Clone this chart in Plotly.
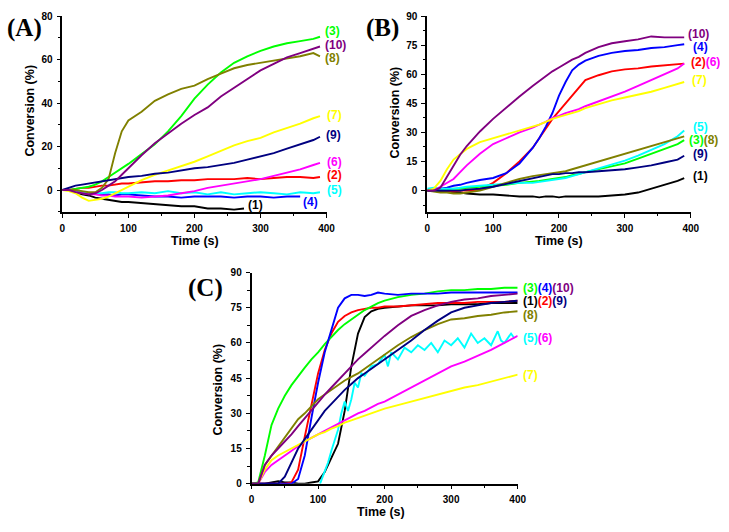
import plotly.graph_objects as go

W, H = 729, 532

COL = {1: '#000000', 2: '#FF0000', 3: '#00FF00', 4: '#0000FF', 5: '#00FFFF',
       6: '#FF00FF', 7: '#FFFF00', 8: '#808000', 9: '#000080', 10: '#800080'}

# ---------------- Panel A ----------------
TA = [0, 10, 20, 30, 40, 50, 60, 70, 80, 90, 100, 120, 140, 160, 180, 200, 220, 240,
      260, 280, 300, 320, 340, 360, 380, 390]
A1_t = [0, 10, 20, 30, 40, 50, 60, 70, 80, 90, 100, 120, 140, 160, 180, 200, 220, 240, 260, 275]
A1 = [0, 0, -1, -2, -2.5, -3.5, -4, -4.5, -5, -5.5, -5.5, -6, -6.5, -7, -7.5, -7.5, -8.5, -8.5, -9, -8.5]
A2 = [0, 0, 0.5, 1, 1, 1.5, 2, 2, 2.5, 3, 3, 3.5, 4, 4, 4.5, 4.5, 5, 5, 5, 5.5, 5, 5.5, 6, 6, 5.5, 6]
A3 = [0, 0, 0.5, 1, 1.5, 2.5, 4, 6, 8, 10, 12, 16.5, 21, 27, 34, 42, 48.5, 54, 58.5, 61.5, 64, 66, 67.5, 68.5, 69.5, 70.5]
A4 = [0, 0, -0.5, -1, -1.5, -1.5, -2, -2, -2.5, -2, -2, -2.5, -3, -3, -3.5, -3, -3, -3, -3.5, -3, -3, -3.5, -3, -3, None, None]
A5 = [0, 0, -1, -1, -1.5, -1.5, -1.5, -1, -1, -1.5, -1.5, -1, -1.5, -0.5, -1.5, -1, -2, -1, -2, -1.5, -1, -1.5, -2, -1, -1.5, -1]
A6 = [0, 0, -1, -1.5, -2, -2, -2.5, -2.5, -3, -3, -3, -3.5, -3, -2.5, -1.5, -0.5, 1, 2, 3, 4, 5, 6.5, 8, 9.5, 11.5, 12.5]
A7 = [0, -0.5, -1.5, -3.5, -5, -4.5, -4, -3, -1.5, 0, 1.5, 4.5, 7, 9, 11, 13, 15.5, 18, 20.5, 22.5, 24, 26.5, 28.5, 30.5, 33, 34]
A8 = [0, 0, 0, -0.5, -1, -1, 1, 5, 17, 27, 32, 36, 41, 44, 46.5, 48, 51, 53.5, 56, 57.5, 58.5, 59.5, 60.5, 61.5, 63, 61.5]
A9 = [0, 1, 2, 2.5, 3, 3.5, 4, 4.5, 5, 5.5, 6, 6.5, 7.5, 8, 9, 10, 10.5, 11.5, 12.5, 14, 15.5, 17, 19, 21, 23, 24.5]
A10 = [0, 0, -1, -1.5, -2, -1.5, 0, 2, 4, 7, 10, 16, 21.5, 26, 30.5, 34.5, 38, 43, 47, 51, 55, 58, 61, 63, 65, 66]

# ---------------- Panel B ----------------
TB = [0, 10, 20, 30, 40, 50, 60, 80, 100, 120, 140, 160, 170, 180, 190, 200, 210, 220, 230, 240,
      260, 280, 300, 320, 340, 360, 380, 390]
B1 = [0, 0, -0.5, -0.5, -1, -1, -1.5, -2, -2, -2.5, -3, -3, -3.5, -3, -3, -3.5, -3, -3, -3, -3,
      -3, -2.5, -2, -1, 1, 3, 5, 6.5]
B2 = [0, 0, 0, 0, -0.5, 0, 0, 0.5, 4, 9, 15, 22, 27, 32, 37, 41, 45, 49, 53, 57,
      59.5, 61.5, 62.5, 63, 64, 64.5, 65, 65.5]
B3 = [0, 0, 0.5, 0.5, 1, 1, 1.5, 2, 2.5, 3, 4, 4.5, 5, 5.5, 6, 6.5, 7, 8, 8.5, 9.5,
      11, 12.5, 14, 16.5, 19, 21.5, 24, 26]
B4 = [0, 0.5, 1, 1.5, 2.5, 3, 4, 5.5, 6.5, 9, 14, 22, 27, 33, 40, 49, 56, 62, 65, 67,
      69.5, 71, 72, 72.5, 73.5, 74, 75, 75.5]
B5 = [1, 1.5, 1, 1, 1, 1.5, 2, 2.5, 3, 3.5, 4, 4, 4.5, 5, 5.5, 6, 6.5, 7.5, 8.5, 9.5,
      11.5, 13.5, 15.5, 18, 21, 24, 28, 31]
B6 = [0, 0, 2, 4, 6, 9.5, 13, 19, 24, 27, 30, 32.5, 34, 35.5, 37.5, 38.5, 40, 41, 42, 43.5,
      46, 48.5, 51, 54, 57, 60, 63, 65.5]
B7 = [0, 1, 5, 11, 16, 19, 21.5, 25, 27, 29, 31, 33, 34, 35.5, 37, 38, 39, 40, 41, 42.5,
      44.5, 46.5, 48, 49.5, 51, 53, 55, 56]
B8 = [0, -0.5, -1, -1, -1.5, -1.5, -1, 0, 2, 4, 6, 7.5, 8, 8.5, 9, 9.5, 10, 11, 12, 13,
      15, 17, 19, 21, 23, 25, 27, 28]
B9 = [0, 0, 0, 0, 0, 0, 0.5, 1, 2, 3.5, 5, 6.5, 7, 8, 8.5, 8.5, 9, 9, 9.5, 9.5,
      10, 10.5, 11, 12, 13, 14.5, 16, 18]
B10 = [0, 0, 1.5, 7, 13, 18.5, 23, 30.5, 37, 43, 48.5, 54, 56.5, 59, 61.5, 63.5, 65.5, 67.5, 69, 71,
       74, 76, 77, 78, 79.5, 79, 79, 79]

# ---------------- Panel C ----------------
TC = [0, 10, 20, 30, 40, 50, 60, 70, 80, 90, 100, 110, 120, 130, 140, 150, 160, 170, 180, 190, 200,
      220, 240, 260, 280, 300, 320, 340, 360, 380, 400]
C1 = [0, 0, 0, 0.5, 1, 0.5, 0.5, 0, 0, 0.5, 1, 5, 11, 17, 31, 50, 64, 71, 73.5, 74.5, 75,
      75.5, 76, 76, 76, 76.5, 76.5, 76.5, 77, 77, 77]
C2 = [0, 0, 0, 0, 0, 0, 0.5, 6, 20, 34, 47, 57, 64, 69, 71.5, 73, 74, 74.5, 75, 75, 75.5,
      75.5, 76, 76.5, 77, 77, 77, 77.5, 77.5, 77.5, 78]
C3 = [0, 0.5, 12, 25, 32, 37.5, 42, 46, 49.5, 53, 56, 59.5, 62.5, 65.5, 68, 70, 72, 74, 75.5, 77, 78,
      79.5, 80.5, 81, 82, 82.5, 82.5, 83, 83, 83.5, 83.5]
C4 = [0, 0, 0, 0, 0, 0, 0, 2, 12, 28, 43, 56, 66, 75, 79, 80.5, 80.5, 80, 80.5, 81.5, 81,
      80.5, 81, 81, 81, 81.5, 81.5, 81.5, 81.5, 81.5, 81.5]
C5_t = [103, 110, 115, 120, 125, 130, 135, 140, 145, 150, 155, 160, 165, 170, 180, 190, 200, 205, 210, 220,
        230, 240, 250, 260, 270, 280, 290, 300, 310, 320, 330, 340, 350, 360, 370, 375, 380, 390, 395]
C5 = [0, 5, 9, 14, 19, 23, 30, 35, 31, 36, 43, 41, 47, 46, 50, 51, 55, 50, 56, 53,
      58, 56, 59, 57, 60, 56, 61, 59, 62, 58, 64, 60, 62, 59, 65, 61, 60, 64, 62]
C6 = [0, 0, 5, 8, 10, 12, 14, 16, 18, 19.5, 21, 22.5, 24, 25.5, 27, 28.5, 30, 31, 32.5, 34, 35,
      38, 41, 44, 47, 50, 52, 54.5, 57, 60, 63]
C7 = [0, 0, 6, 10, 12, 13.5, 15, 16.5, 18, 19.5, 21, 22, 23.5, 24.5, 26, 27, 28, 29, 30, 31, 32,
      33.5, 35, 36.5, 38, 39.5, 41, 42, 43.5, 45, 46.5]
C8 = [0, 0, 8, 12, 16, 20, 24, 27.5, 30, 33, 36, 38, 40, 42, 44, 45.5, 47, 49, 51, 53, 55,
      59, 62.5, 65.5, 68, 70, 70.5, 71.5, 72, 73, 73.5]
C9 = [0, 0, 0, 0, 0, 3, 9, 15, 19, 23, 27.5, 31, 34, 37, 40, 42.5, 45, 47, 49, 51, 53,
      57, 61, 65.5, 69.5, 73, 75, 76, 77, 77.5, 78]
C10 = [0, 0, 8, 12, 15, 18, 21, 24.5, 28, 31.5, 35, 38, 41, 44, 47, 50, 53, 55.5, 58, 60.5, 63,
       67.5, 71.5, 74, 76, 77.5, 78.5, 79, 80, 80.5, 81]

# curve labels: (series numbers, x in s, y in %)
A_labels = [([3], 394, 73), ([10], 394, 66.7), ([8], 394, 60.8), ([7], 398, 34.4),
            ([9], 396, 25.4), ([6], 398, 13), ([2], 398, 7), ([5], 398, 0),
            ([4], 361, -5.3), ([1], 278, -6.7)]
B_labels = [([10], 392, 80.5), ([4], 400, 74.2), ([2, 6], 397.5, 66.4), ([7], 398.5, 56.9),
            ([5], 400, 32.7), ([3, 8], 393.5, 26.3), ([9], 400, 19), ([1], 401, 7.4)]
C_labels = [([3, 4, 10], 405, 83.5), ([1, 2, 9], 405, 77.9), ([8], 405, 72),
            ([5, 6], 405, 62), ([7], 405, 46.4)]

fig = go.Figure()


def add(t, y, k, xa, ya):
    fig.add_trace(go.Scatter(x=t, y=y, mode='lines', xaxis=xa, yaxis=ya,
                             line=dict(color=COL[k], width=1.9), connectgaps=False,
                             showlegend=False, hoverinfo='skip'))


A_series = [(A1_t, A1, 1), (TA, A2, 2), (TA, A3, 3), (TA, A4, 4), (TA, A5, 5), (TA, A6, 6),
            (TA, A7, 7), (TA, A8, 8), (TA, A9, 9), (TA, A10, 10)]
B_series = [(TB, B1, 1), (TB, B2, 2), (TB, B3, 3), (TB, B4, 4), (TB, B5, 5), (TB, B6, 6),
            (TB, B7, 7), (TB, B8, 8), (TB, B9, 9), (TB, B10, 10)]
C_series = [(TC, C1, 1), (TC, C2, 2), (TC, C3, 3), (TC, C4, 4), (C5_t, C5, 5), (TC, C6, 6),
            (TC, C7, 7), (TC, C8, 8), (TC, C9, 9), (TC, C10, 10)]
for t, y, k in A_series:
    add(t, y, k, 'x', 'y')
for t, y, k in B_series:
    add(t, y, k, 'x2', 'y2')
for t, y, k in C_series:
    add(t, y, k, 'x3', 'y3')

FONT = 'Arial, Liberation Sans, sans-serif'
tickfont = dict(family=FONT, size=10, color='black', weight='bold')


def px(x):
    return x / W


def py(y):
    return 1 - y / H


PANELS = {
    'A': dict(xd=[px(60.3), px(329)], yd=[py(210.5), py(10.3)], xr=[0, 400], yr=[-10, 80]),
    'B': dict(xd=[px(431.3), px(699.3)], yd=[py(210.7), py(10.3)], xr=[0, 400], yr=[-11, 90]),
    'C': dict(xd=[px(252.7), px(523.3)], yd=[py(488.7), py(272.7)], xr=[0, 400], yr=[0, 90]),
}


def axis(dom, rng, dtick, minor, anchor):
    return dict(domain=dom, range=rng, anchor=anchor, showgrid=False, zeroline=False,
                showline=True, linecolor='black', linewidth=1.6, mirror=False,
                ticks='outside', ticklen=4, tickwidth=1.4, tickcolor='black',
                tickmode='linear', tick0=0, dtick=dtick, tickfont=tickfont,
                ticklabelstandoff=2,
                minor=dict(ticks='outside', ticklen=2.5, tickwidth=1.2, tickcolor='black',
                           tickmode='linear', tick0=0, dtick=minor),
                fixedrange=True)


pA, pB, pC = PANELS['A'], PANELS['B'], PANELS['C']
fig.update_layout(
    width=W, height=H, margin=dict(l=0, r=0, t=0, b=0),
    paper_bgcolor='white', plot_bgcolor='white', showlegend=False,
    xaxis=axis(pA['xd'], pA['xr'], 100, 50, 'y'),
    yaxis=axis(pA['yd'], pA['yr'], 20, 10, 'x'),
    xaxis2=axis(pB['xd'], pB['xr'], 100, 50, 'y2'),
    yaxis2=axis(pB['yd'], pB['yr'], 15, 7.5, 'x2'),
    xaxis3=axis(pC['xd'], pC['xr'], 100, 50, 'y3'),
    yaxis3=axis(pC['yd'], pC['yr'], 15, 7.5, 'x3'),
)


def to_paper(p, x, y):
    fx = (x - p['xr'][0]) / (p['xr'][1] - p['xr'][0])
    fy = (y - p['yr'][0]) / (p['yr'][1] - p['yr'][0])
    return (p['xd'][0] + fx * (p['xd'][1] - p['xd'][0]),
            p['yd'][0] + fy * (p['yd'][1] - p['yd'][0]))


ann = []
for txt, x, y in [('(A)', 22, 22), ('(B)', 386, 22), ('(C)', 206, 288)]:
    ann.append(dict(text='<b>' + txt + '</b>', x=px(x), y=py(y), xref='paper', yref='paper',
                    xanchor='center', yanchor='middle', showarrow=False,
                    font=dict(family='Times New Roman, Liberation Serif, serif', size=25, color='black')))
for x, y in [(28, 107.5), (399, 108.5), (219, 392)]:
    ann.append(dict(text='<b>Conversion (%)</b>', x=px(x), y=py(y), xref='paper', yref='paper',
                    textangle=-90, xanchor='center', yanchor='middle', showarrow=False,
                    font=dict(family=FONT, size=12.5, color='black')))
for x, y in [(195, 240), (565.5, 240), (384, 518)]:
    ann.append(dict(text='<b>Time (s)</b>', x=px(x), y=py(y), xref='paper', yref='paper',
                    xanchor='center', yanchor='middle', showarrow=False,
                    font=dict(family=FONT, size=12.5, color='black')))


def lab(keys):
    return ''.join('<span style="color:%s">(%d)</span>' % (COL[k], k) for k in keys)


for labels, p in [(A_labels, pA), (B_labels, pB), (C_labels, pC)]:
    for keys, x, y in labels:
        xp, yp = to_paper(p, x, y)
        ann.append(dict(text='<b>' + lab(keys) + '</b>', x=xp, y=yp, xref='paper', yref='paper',
                        xanchor='left', yanchor='middle', showarrow=False,
                        font=dict(family=FONT, size=12, color=COL[keys[0]])))

fig.update_layout(annotations=ann)
fig.write_html('out.html', config={'displayModeBar': False},
               post_script="document.body.style.margin='0';")
